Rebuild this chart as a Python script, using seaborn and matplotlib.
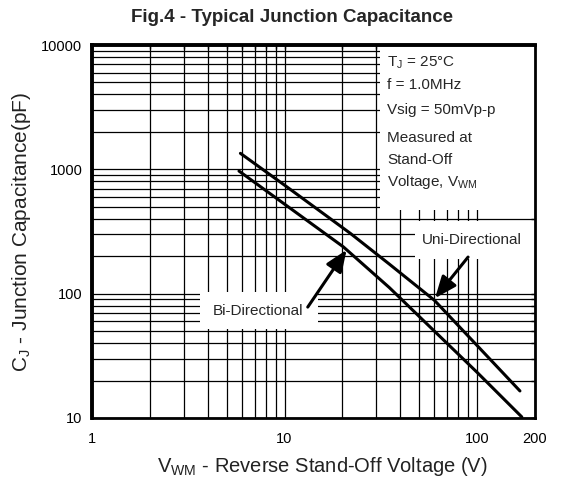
import seaborn as sns
import pandas as pd
import matplotlib.pyplot as plt
import numpy as np
from matplotlib.patches import Rectangle
from matplotlib.ticker import FixedLocator, NullFormatter

sns.set_style('white')
plt.rcParams['font.family'] = ['Liberation Sans', 'DejaVu Sans']
plt.rcParams['mathtext.fontset'] = 'custom'
plt.rcParams['mathtext.rm'] = 'Liberation Sans'

# curves (V in volts, C in pF)
uni_v = [5.9, 10, 22, 35, 60, 100, 167]
uni_c = [1345, 746, 305, 173, 88.5, 38.3, 16.5]
bi_v = [5.8, 10, 20.2, 35, 59.2, 100, 170.7]
bi_c = [969, 525, 238, 112, 51, 23.3, 10.2]

x_major = [1, 10, 100, 200]
x_minor = [2, 3, 4, 5, 6, 7, 8, 9, 20, 30, 40, 50, 60, 70, 80, 90]
y_major = [10, 100, 1000, 10000]
y_minor = [20, 30, 40, 50, 60, 70, 80, 90, 200, 300, 400, 500, 600, 700, 800, 900,
           2000, 3000, 4000, 5000, 6000, 7000, 8000, 9000]

df = pd.DataFrame({
    'V': uni_v + bi_v,
    'C': uni_c + bi_c,
    'Type': ['Uni'] * len(uni_v) + ['Bi'] * len(bi_v),
})

fig = plt.figure(figsize=(5.61, 4.83), dpi=100)
ax = fig.add_axes([0.164, 0.1346, 0.7897, 0.7722])

sns.lineplot(data=df, x='V', y='C', hue='Type', palette={'Uni': 'black', 'Bi': 'black'},
             linewidth=2.2, legend=False, ax=ax, zorder=3, sort=True)

ax.set_xscale('log')
ax.set_yscale('log')
ax.set_xlim(1, 200)
ax.set_ylim(10, 10000)

ax.xaxis.set_major_locator(FixedLocator(x_major))
ax.xaxis.set_minor_locator(FixedLocator(x_minor))
ax.yaxis.set_major_locator(FixedLocator(y_major))
ax.yaxis.set_minor_locator(FixedLocator(y_minor))
ax.set_xticklabels([str(v) for v in x_major])
ax.set_yticklabels([str(v) for v in y_major])
ax.xaxis.set_minor_formatter(NullFormatter())
ax.yaxis.set_minor_formatter(NullFormatter())

ax.set_axisbelow(True)
ax.grid(which='both', color='black', linewidth=0.9)
ax.tick_params(which='both', direction='in', top=True, right=True, length=3, width=1,
               color='black', labelsize=10.5, labelcolor='black')
ax.tick_params(axis='x', pad=10)
ax.tick_params(axis='y', pad=7)

for side, lw in [('left', 2.8), ('top', 2.8), ('right', 2.0), ('bottom', 2.0)]:
    ax.spines[side].set_visible(True)
    ax.spines[side].set_color('black')
    ax.spines[side].set_linewidth(lw)

# white boxes behind the notes and labels
for (x0, x1, y0, y1) in [(31.5, 200, 470, 10000), (47.5, 200, 190, 385), (3.64, 14.9, 52, 103)]:
    ax.add_patch(Rectangle((x0, y0), x1 - x0, y1 - y0, facecolor='white', edgecolor='none', zorder=1))

notes = ['T$_\\mathregular{J}$ = 25°C', 'f = 1.0MHz', 'Vsig = 50mVp-p',
         'Measured at', 'Stand-Off', 'Voltage, V$_\\mathregular{WM}$']
note_y = [63, 85, 110, 138, 160, 182]
for txt, py in zip(notes, note_y):
    fig.text(387 / 561, 1 - py / 483, txt, fontsize=11, ha='left', va='center')

ax.text(7.28, 72.4, 'Bi-Directional', fontsize=11, ha='center', va='center', zorder=4)
ax.text(94.2, 270, 'Uni-Directional', fontsize=11, ha='center', va='center', zorder=4)

arrow = dict(arrowstyle='-|>,head_length=1.1,head_width=0.45', color='black', lw=2.2,
             shrinkA=0, shrinkB=0, mutation_scale=12)
ax.annotate('', xy=(21, 225), xytext=(13.2, 78), arrowprops=arrow, zorder=4)
ax.annotate('', xy=(60.5, 92), xytext=(89.8, 197), arrowprops=arrow, zorder=4)

ax.set_xlabel('V$_\\mathregular{WM}$ - Reverse Stand-Off Voltage (V)', fontsize=14.5, color='#222222')
ax.set_ylabel('C$_\\mathregular{J}$ - Junction Capacitance(pF)', fontsize=15, color='#222222')
ax.xaxis.set_label_coords(0.521, -0.1)
ax.yaxis.set_label_coords(-0.133, 0.5)

fig.text(0.521, 0.964, 'Fig.4 - Typical Junction Capacitance', fontsize=13.5,
         fontweight='bold', ha='center', va='center')

plt.savefig('out.png', dpi=100)
